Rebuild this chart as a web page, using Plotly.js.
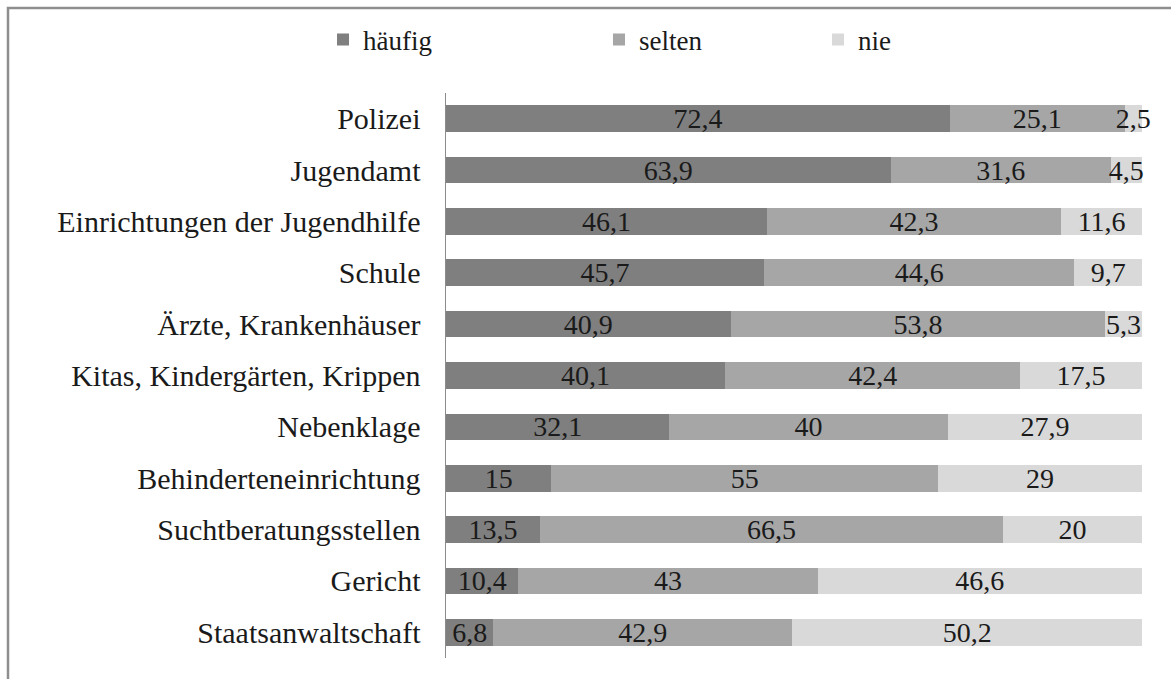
<!DOCTYPE html>
<html>
<head>
<meta charset="utf-8">
<script src="https://cdn.plot.ly/plotly-3.0.1.min.js"></script>
<style>
html,body{margin:0;padding:0;background:#fff;}
#chart{width:1171px;height:679px;}
</style>
</head>
<body>
<div id="chart"></div>
<script>
const categories = ["Polizei","Jugendamt","Einrichtungen der Jugendhilfe","Schule","Ärzte, Krankenhäuser","Kitas, Kindergärten, Krippen","Nebenklage","Behinderteneinrichtung","Suchtberatungsstellen","Gericht","Staatsanwaltschaft"];
const haeufig = [72.4,63.9,46.1,45.7,40.9,40.1,32.1,15,13.5,10.4,6.8];
const selten  = [25.1,31.6,42.3,44.6,53.8,42.4,40,55,66.5,43,42.9];
const nie     = [2.5,4.5,11.6,9.7,5.3,17.5,27.9,29,20,46.6,50.2];
const seriesNames = ["häufig","selten","nie"];
const seriesColors = ["#7f7f7f","#a6a6a6","#d9d9d9"];

const fmt = v => String(v).replace('.', ',');
const FONT = "Liberation Serif, Times New Roman, serif";
const TXT = "#1a1a1a";

const allSeries = [haeufig, selten, nie];
const legendIds = ["legend","legend2","legend3"];
const traces = allSeries.map((vals, i) => ({
  type: 'bar',
  orientation: 'h',
  name: seriesNames[i],
  y: categories,
  x: vals,
  text: vals.map(fmt),
  texttemplate: '%{text}',
  textposition: 'inside',
  insidetextanchor: 'middle',
  textangle: 0,
  cliponaxis: false,
  textfont: {family: FONT, size: 28, color: TXT},
  marker: {color: seriesColors[i], line: {width: 0}},
  legend: legendIds[i],
  hoverinfo: 'skip'
}));

const legendBase = {
  orientation: 'h', yanchor: 'middle', y: 1.094, xanchor: 'left',
  font: {family: FONT, size: 27, color: TXT},
  bgcolor: 'rgba(0,0,0,0)', borderwidth: 0
};

const layout = {
  width: 1171, height: 679,
  margin: {l: 446, r: 29, t: 93, b: 21, pad: 0},
  paper_bgcolor: '#ffffff', plot_bgcolor: '#ffffff',
  barmode: 'stack', barnorm: 'percent', bargap: 0.48,
  uniformtext: {mode: 'show', minsize: 28},
  font: {family: FONT, color: TXT},
  xaxis: {range: [0, 100], showgrid: false, zeroline: false, showline: false, showticklabels: false, ticks: '', fixedrange: true},
  yaxis: {
    autorange: 'reversed', showgrid: false, zeroline: false,
    showline: true, linecolor: '#8c8c8c', linewidth: 1.5,
    ticks: '', ticklabelstandoff: 18,
    tickfont: {family: FONT, size: 30, color: TXT}, fixedrange: true
  },
  legend:  Object.assign({}, legendBase, {x: -0.1767}),
  legend2: Object.assign({}, legendBase, {x: 0.2198}),
  legend3: Object.assign({}, legendBase, {x: 0.5345}),
  shapes: [{
    type: 'rect', xref: 'paper', yref: 'paper',
    x0: (8 - 446) / 696, x1: (1200 - 446) / 696,
    y0: -(720 - 658) / 565, y1: 1 + (93 - 8) / 565,
    line: {color: '#8e8e8e', width: 2.5}, fillcolor: 'rgba(0,0,0,0)', layer: 'below'
  }],
  showlegend: true
};

Plotly.newPlot('chart', traces, layout, {displayModeBar: false, staticPlot: true});
</script>
</body>
</html>
